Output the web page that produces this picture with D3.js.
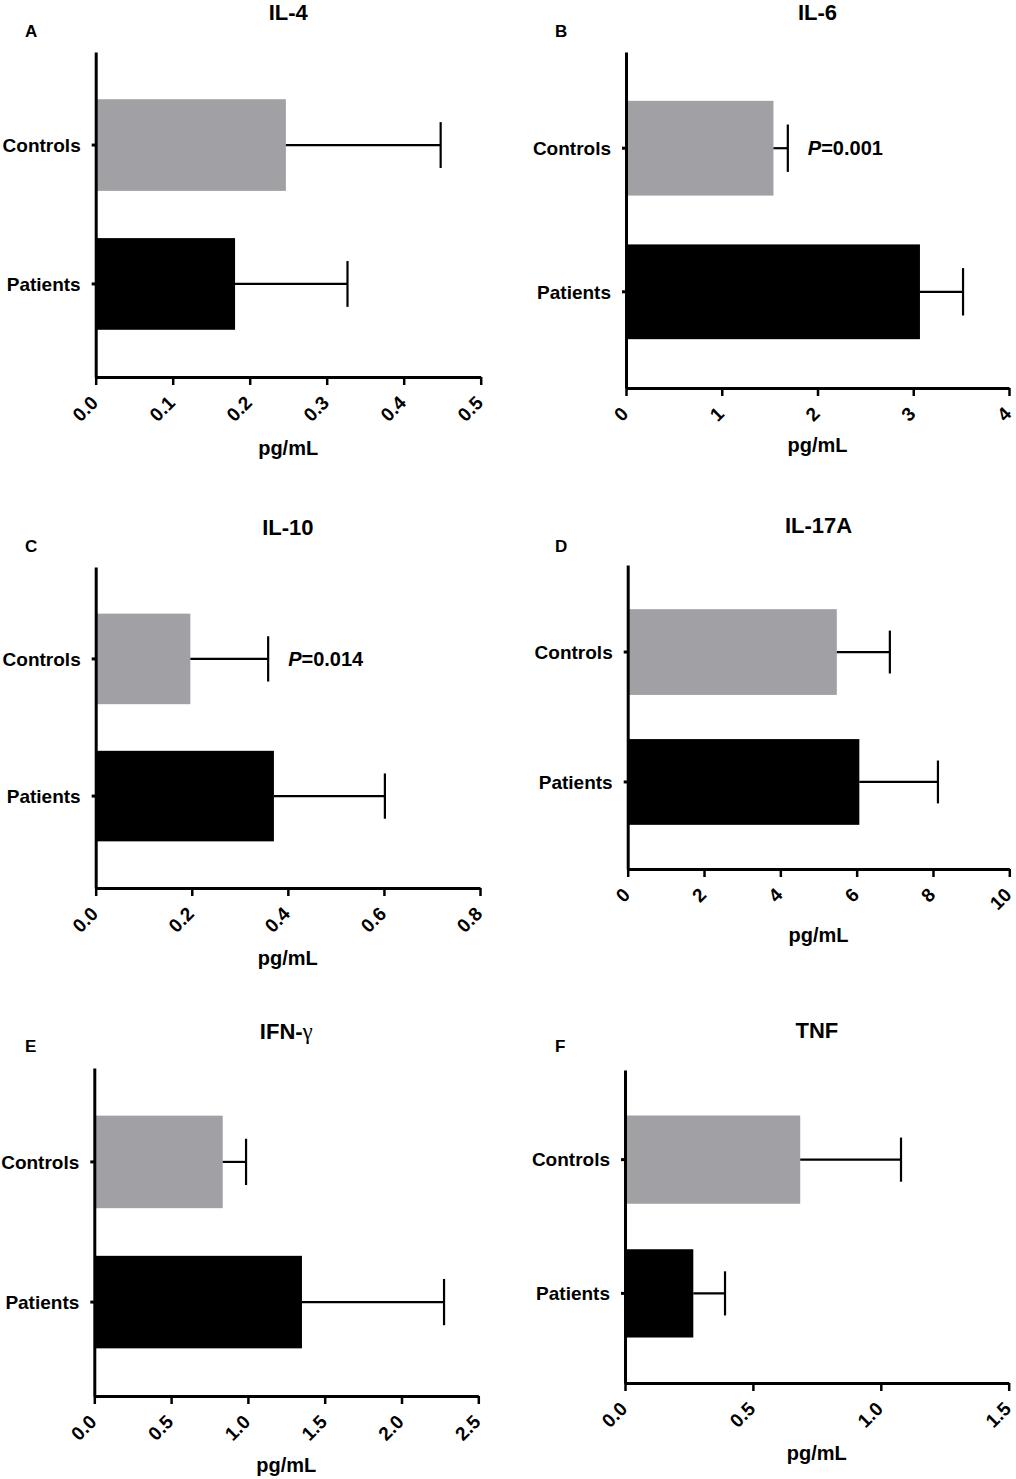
<!DOCTYPE html>
<html>
<head>
<meta charset="utf-8">
<script src="https://cdn.jsdelivr.net/npm/d3@7"></script>
<style>
  body { margin: 0; background: #fff; }
  svg text { font-family: "Liberation Sans", Arial, sans-serif; font-weight: bold; fill: #000; }
</style>
</head>
<body>
<div id="chart"></div>
<script>
// cytokine panels, values (mean and SD, pg/mL)
const panelTitles = ["IL-4", "IL-6", "IL-10", "IL-17A", "IFN-", "TNF"];
const panelLetters = ["A", "B", "C", "D", "E", "F"];
const groups = ["Controls", "Patients"];
const controlsMean = [0.247, 1.54, 0.197, 5.48, 0.836, 0.685];
const controlsSD = [0.201, 0.15, 0.162, 1.39, 0.152, 0.394];
const patientsMean = [0.181, 3.07, 0.371, 6.07, 1.352, 0.267];
const patientsSD = [0.146, 0.45, 0.231, 2.06, 0.925, 0.124];
const pLabels = [null, "0.001", "0.014", null, null, null];
const tickLabels = [
    ["0.0", "0.1", "0.2", "0.3", "0.4", "0.5"],
    ["0", "1", "2", "3", "4"],
    ["0.0", "0.2", "0.4", "0.6", "0.8"],
    ["0", "2", "4", "6", "8", "10"],
    ["0.0", "0.5", "1.0", "1.5", "2.0", "2.5"],
    ["0.0", "0.5", "1.0", "1.5"]
];
const unitLabel = "pg/mL";

// panel placement on the page
const layout = [
    { x0: 95.7, x1: 480.7, yTop: 52, yAxis: 377, titleY: 20, letterX: 25, letterY: 37, unitY: 455 },
    { x0: 626, x1: 1009, yTop: 52, yAxis: 388, titleY: 20, letterX: 555, letterY: 37, unitY: 452 },
    { x0: 95.7, x1: 480, yTop: 567, yAxis: 888, titleY: 535, letterX: 25, letterY: 552, unitY: 965 },
    { x0: 627.7, x1: 1009.3, yTop: 565, yAxis: 869, titleY: 533, letterX: 555, letterY: 552, unitY: 942 },
    { x0: 94.3, x1: 478.3, yTop: 1068, yAxis: 1396, titleY: 1039, letterX: 25, letterY: 1052, unitY: 1472 },
    { x0: 625, x1: 1008.7, yTop: 1070, yAxis: 1383, titleY: 1038, letterX: 555, letterY: 1052, unitY: 1460 }
];
const barColors = { Controls: "#a1a0a5", Patients: "#000000" };

const svg = d3.select("#chart").append("svg")
    .attr("width", 1016)
    .attr("height", 1479);

panelTitles.forEach((title, i) => {
    const L = layout[i];
    const g = svg.append("g");
    const ticks = tickLabels[i].map(Number);

    const x = d3.scaleLinear().domain([0, ticks[ticks.length - 1]]).range([L.x0, L.x1]);
    const y = d3.scaleBand().domain(groups).range([L.yTop, L.yAxis]).paddingInner(0.34).paddingOuter(0.34);

    const rows = [
        { group: "Controls", mean: controlsMean[i], sd: controlsSD[i] },
        { group: "Patients", mean: patientsMean[i], sd: patientsSD[i] }
    ];

    // bars
    g.selectAll("rect.bar").data(rows).join("rect")
        .attr("class", "bar")
        .attr("x", x(0))
        .attr("y", d => y(d.group))
        .attr("width", d => x(d.mean) - x(0))
        .attr("height", y.bandwidth())
        .attr("fill", d => barColors[d.group]);

    // error bars (upper side only)
    const err = g.selectAll("g.err").data(rows).join("g").attr("class", "err");
    err.append("line")
        .attr("x1", d => x(d.mean))
        .attr("x2", d => x(d.mean + d.sd))
        .attr("y1", d => y(d.group) + y.bandwidth() / 2)
        .attr("y2", d => y(d.group) + y.bandwidth() / 2)
        .attr("stroke", "#000").attr("stroke-width", 2.2);
    err.append("line")
        .attr("x1", d => x(d.mean + d.sd))
        .attr("x2", d => x(d.mean + d.sd))
        .attr("y1", d => y(d.group) + y.bandwidth() / 4)
        .attr("y2", d => y(d.group) + y.bandwidth() * 3 / 4)
        .attr("stroke", "#000").attr("stroke-width", 2.2);

    // x axis
    const xAxis = g.append("g")
        .attr("transform", `translate(0,${L.yAxis})`)
        .call(d3.axisBottom(x).tickValues(ticks).tickFormat((d, k) => tickLabels[i][k]).tickSize(8).tickSizeOuter(0));
    xAxis.select(".domain").attr("stroke-width", 3);
    xAxis.selectAll(".tick line").attr("stroke-width", 2.5);
    xAxis.selectAll(".tick text")
        .attr("x", null).attr("y", null).attr("dy", null)
        .attr("transform", "translate(3,27) rotate(-45)")
        .attr("text-anchor", "end")
        .style("font-size", "19px");

    // y axis
    const yAxis = g.append("g")
        .attr("transform", `translate(${L.x0},0)`)
        .call(d3.axisLeft(y).tickSize(4).tickSizeOuter(0).tickPadding(11));
    yAxis.select(".domain").attr("stroke-width", 3);
    yAxis.selectAll(".tick line").attr("stroke-width", 3);
    yAxis.selectAll(".tick text").style("font-size", "19px").attr("dy", "0.36em");

    // titles
    const t = g.append("text")
        .attr("x", (L.x0 + L.x1) / 2)
        .attr("y", L.titleY)
        .attr("text-anchor", "middle")
        .style("font-size", "22px")
        .text(title);
    if (title === "IFN-") {
        t.append("tspan")
            .style("font-family", "'Liberation Serif', 'Times New Roman', serif")
            .style("font-weight", "normal")
            .style("font-size", "23px")
            .text("γ");
    }

    g.append("text")
        .attr("x", L.letterX)
        .attr("y", L.letterY)
        .style("font-size", "17px")
        .text(panelLetters[i]);

    g.append("text")
        .attr("x", (L.x0 + L.x1) / 2)
        .attr("y", L.unitY)
        .attr("text-anchor", "middle")
        .style("font-size", "20px")
        .text(unitLabel);

    // p-value note next to the controls error bar
    if (pLabels[i]) {
        const c = rows[0];
        const p = g.append("text")
            .attr("x", x(c.mean + c.sd) + 20)
            .attr("y", y(c.group) + y.bandwidth() / 2 + 7)
            .style("font-size", "20px");
        p.append("tspan").style("font-style", "italic").text("P");
        p.append("tspan").text("=" + pLabels[i]);
    }
});
</script>
</body>
</html>
